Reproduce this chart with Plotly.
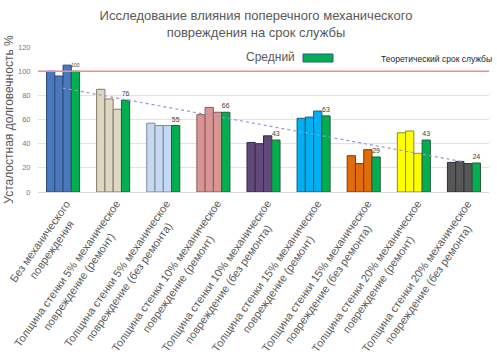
import numpy as np
import plotly.graph_objects as go

categories = [
    "Без механического<br>повреждения",
    "Толщина стенки 5% механическое<br>повреждение (ремонт)",
    "Толщина стенки 5% механическое<br>повреждение (без ремонта)",
    "Толщина стенки 10% механическое<br>повреждение (ремонт)",
    "Толщина стенки 10% механическое<br>повреждение (без ремонта)",
    "Толщина стенки 15% механическое<br>повреждение (ремонт)",
    "Толщина стенки 15% механическое<br>повреждение (без ремонта)",
    "Толщина стенки 20% механическое<br>повреждение (ремонт)",
    "Толщина стенки 20% механическое<br>повреждение (без ремонта)",
]
trial1 = [100, 85, 57, 64, 41, 61, 30, 49, 24.5]
trial2 = [96, 77, 55, 70, 40, 62, 23.5, 50.5, 25.3]
trial3 = [105, 68.5, 55, 66, 46.5, 67, 35, 32, 23.5]
average = [100, 76, 55, 66, 43, 63, 29, 43, 24]
theoretical = 100
group_colors = ["#4a78bc", "#ddd8c2", "#c6d9f0", "#d99594", "#5f4a7b",
                "#00b0f0", "#e36c0a", "#ffff00", "#575757"]
group_lines = ["#2c4a7a", "#7f7a66", "#7a8aa0", "#8a5a5a", "#3a2a4a",
               "#1a5a7a", "#7a3a05", "#8a8a20", "#303030"]
avg_color = "#00b050"
y_ticks = [0, 20, 40, 60, 80, 100, 120]

# plot area in pixels
L, R, T, B = 38, 8, 47, 166
W, H = 497, 358
pw, ph = W - L - R, H - T - B

x_idx = np.arange(len(categories))
fig = go.Figure()
for vals in (trial1, trial2, trial3):
    fig.add_trace(go.Bar(x=x_idx, y=vals, marker=dict(color=group_colors,
                  line=dict(color=group_lines, width=1)), showlegend=False))
fig.add_trace(go.Bar(x=x_idx, y=average, marker=dict(color=avg_color,
              line=dict(color="#2a5a3a", width=1)), showlegend=False,
              text=[str(v) for v in average], textposition="outside",
              textfont=dict(size=7, color="#404040"), cliponaxis=False))

coef = np.polyfit(x_idx + 1, average, 1)
trend = np.polyval(coef, x_idx + 1)
fig.add_trace(go.Scatter(x=x_idx, y=trend, mode="lines",
              line=dict(color="#a293d0", width=1.2, dash="dot"), showlegend=False))
fig.add_trace(go.Scatter(x=[-0.5, len(categories) - 0.5], y=[theoretical, theoretical],
              mode="lines", line=dict(color="#f28b8b", width=1.5), showlegend=False))

annotations = []
for i, lab in enumerate(categories):
    annotations.append(dict(text=lab, x=i, xref="x", y=0, yref="paper",
                            xanchor="right", yanchor="top", xshift=24, yshift=-3,
                            textangle=-55, align="center", showarrow=False,
                            font=dict(size=11, color="#595959")))
annotations += [
    dict(text="Средний", x=(297 - L) / pw, y=(H - B - 57) / ph, xref="paper", yref="paper",
         xanchor="right", yanchor="middle", showarrow=False,
         font=dict(size=12, color="#595959")),
    dict(text="Теоретический срок службы", x=(494 - L) / pw, y=(H - B - 59) / ph,
         xref="paper", yref="paper", xanchor="right", yanchor="middle",
         showarrow=False, font=dict(size=8.5, color="#262626")),
]

fig.update_layout(
    width=W, height=H,
    margin=dict(l=L, r=R, t=T, b=B, autoexpand=False),
    paper_bgcolor="white", plot_bgcolor="white",
    barmode="group", bargap=0.34, bargroupgap=0,
    font=dict(family="Liberation Sans, Arial, sans-serif", color="#595959"),
    title=dict(text="Исследование влияния поперечного механического<br>повреждения на срок службы",
               x=256 / W, xanchor="center", y=1 - 20 / H, yanchor="middle",
               font=dict(size=13, color="#595959")),
    xaxis=dict(tickvals=list(x_idx), showticklabels=False,
               range=[-0.5, len(categories) - 0.5], showgrid=False,
               showline=True, linecolor="#d9d9d9", ticks="", automargin=False),
    yaxis=dict(range=[0, 120], tickvals=y_ticks, showgrid=True, gridcolor="#e3e3e3",
               tickfont=dict(size=7.5, color="#7a7a7a"), zeroline=False,
               ticks="outside", ticklen=5, tickcolor="rgba(0,0,0,0)",
               ticklabeloverflow="allow", automargin=False,
               title=dict(text="Усталостная долговечность %" + "\u00a0" * 6, standoff=1,
                          font=dict(size=12, color="#595959"))),
    annotations=annotations,
)
fig.add_shape(type="rect", xref="paper", yref="paper",
              x0=(303 - L) / pw, x1=(333 - L) / pw,
              y0=(H - B - 62) / ph, y1=(H - B - 54) / ph,
              fillcolor=avg_color, line=dict(color="#2f5597", width=1))
fig.write_html("out.html", config={"displayModeBar": False},
               post_script="document.body.style.margin='0';")
